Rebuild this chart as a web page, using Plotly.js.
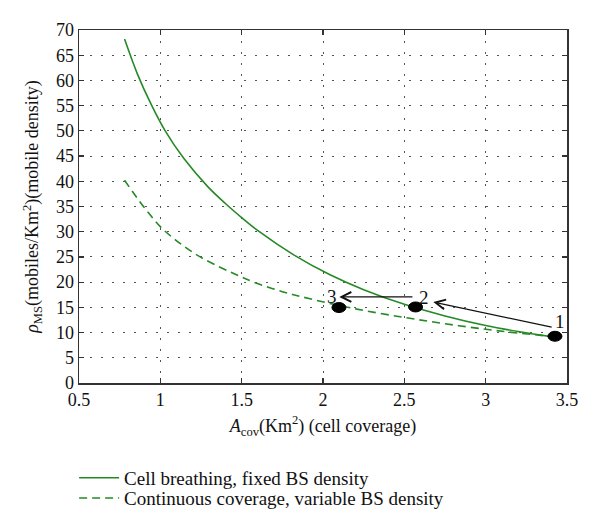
<!DOCTYPE html>
<html>
<head>
<meta charset="utf-8">
<script src="https://cdn.plot.ly/plotly-3.0.1.min.js"></script>
<style>html,body{margin:0;padding:0;background:#fff;}</style>
</head>
<body>
<div id="chart" style="width:600px;height:528px;"></div>
<script>
// Cell breathing, fixed BS density (solid)
const solidX = [0.78, 0.86, 0.94, 1.03, 1.145, 1.29, 1.4, 1.5, 1.6, 1.82, 2.04, 2.25, 2.5, 2.75, 3.0, 3.2, 3.4];
const solidY = [68.2, 61.2, 55.5, 50.0, 44.5, 39.0, 35.6, 32.8, 30.2, 25.4, 21.5, 18.5, 15.6, 13.3, 11.4, 10.2, 9.2];
// Continuous coverage, variable BS density (dashed)
const dashX = [0.78, 0.875, 0.936, 1.0, 1.1, 1.25, 1.5, 1.57, 1.75, 1.92, 2.2, 2.5, 2.75, 3.0, 3.2, 3.4];
const dashY = [40.2, 35.9, 33.4, 31.0, 28.2, 24.9, 21.0, 20.05, 18.1, 16.7, 14.7, 13.0, 11.75, 10.65, 9.9, 9.25];
const seriesNames = ["Cell breathing, fixed BS density", "Continuous coverage, variable BS density"];

// operating points 1, 2, 3
const pointLabels = ["1", "2", "3"];
const pointX = [3.426, 2.569, 2.098];
const pointY = [9.27, 15.08, 14.96];
const labelX = [3.456, 2.622, 2.053];
const labelY = [12.1, 16.95, 17.06];
// arrows: tail -> head
const arrowTailX = [3.415, 2.559];
const arrowTailY = [11.0, 17.06];
const arrowHeadX = [2.678, 2.10];
const arrowHeadY = [16.07, 17.06];

const xTicks = [0.5, 1, 1.5, 2, 2.5, 3, 3.5];
const yTicks = [0, 5, 10, 15, 20, 25, 30, 35, 40, 45, 50, 55, 60, 65, 70];

const green = "#258a25";
const serif = "Liberation Serif";

const traces = [
  {x: solidX, y: solidY, name: seriesNames[0], mode: "lines", type: "scatter", legend: "legend",
   line: {color: green, width: 1.6, shape: "spline", smoothing: 1}},
  {x: dashX, y: dashY, name: seriesNames[1], mode: "lines", type: "scatter", legend: "legend2",
   line: {color: green, width: 1.6, dash: "8px,5px", shape: "spline", smoothing: 1}}
];

const shapes = pointX.map((px, i) => ({
  type: "circle", xref: "x", yref: "y",
  xsizemode: "pixel", ysizemode: "pixel",
  xanchor: px, yanchor: pointY[i],
  x0: -7, x1: 7, y0: -5, y1: 5,
  fillcolor: "#000", line: {color: "#000", width: 1}
}));

const annotations = [];
arrowTailX.forEach((tx, i) => {
  annotations.push({
    x: arrowHeadX[i], y: arrowHeadY[i], xref: "x", yref: "y",
    ax: tx, ay: arrowTailY[i], axref: "x", ayref: "y",
    text: "", showarrow: true, arrowhead: 5, arrowsize: 1.5, arrowwidth: 1.3, arrowcolor: "#111",
    standoff: 0, startstandoff: 0
  });
});
pointLabels.forEach((t, i) => {
  annotations.push({
    x: labelX[i], y: labelY[i], xref: "x", yref: "y", text: t, showarrow: false,
    font: {family: serif, size: 19, color: "#111"}
  });
});

const axisCommon = {
  showgrid: true, gridcolor: "#555", gridwidth: 1, griddash: "1.5px,9.5px",
  showline: true, linecolor: "#333", linewidth: 1.5, mirror: "ticks",
  ticks: "inside", ticklen: 5, tickcolor: "#333", tickwidth: 1.2,
  zeroline: false, tickfont: {family: serif, size: 18, color: "#111"}
};

const legendCommon = {
  xanchor: "left", yanchor: "middle", itemwidth: 40,
  font: {family: serif, size: 19, color: "#111"},
  bgcolor: "rgba(0,0,0,0)", borderwidth: 0
};

const layout = {
  width: 600, height: 528,
  margin: {l: 79, r: 33, t: 30, b: 145, autoexpand: false},
  paper_bgcolor: "#fff", plot_bgcolor: "#fff",
  showlegend: true,
  legend: Object.assign({}, legendCommon, {x: -0.01, y: -0.269}),
  legend2: Object.assign({}, legendCommon, {x: -0.01, y: -0.326}),
  xaxis: Object.assign({}, axisCommon, {
    range: [0.5, 3.5], tickvals: xTicks, ticktext: xTicks.map(String),
    title: {text: "<i>A</i><sub>cov</sub>(Km<sup>2</sup>) (cell coverage)", font: {family: serif, size: 18, color: "#111"}, standoff: 10}
  }),
  yaxis: Object.assign({}, axisCommon, {
    range: [0, 70], tickvals: yTicks, ticktext: yTicks.map(String),
    title: {text: "<i>ρ</i><sub>MS</sub>(mobiles/Km<sup>2</sup>)(mobile density)", font: {family: serif, size: 18, color: "#111"}, standoff: 12}
  }),
  shapes: shapes,
  annotations: annotations
};

Plotly.newPlot("chart", traces, layout, {staticPlot: true, displayModeBar: false});
</script>
</body>
</html>
